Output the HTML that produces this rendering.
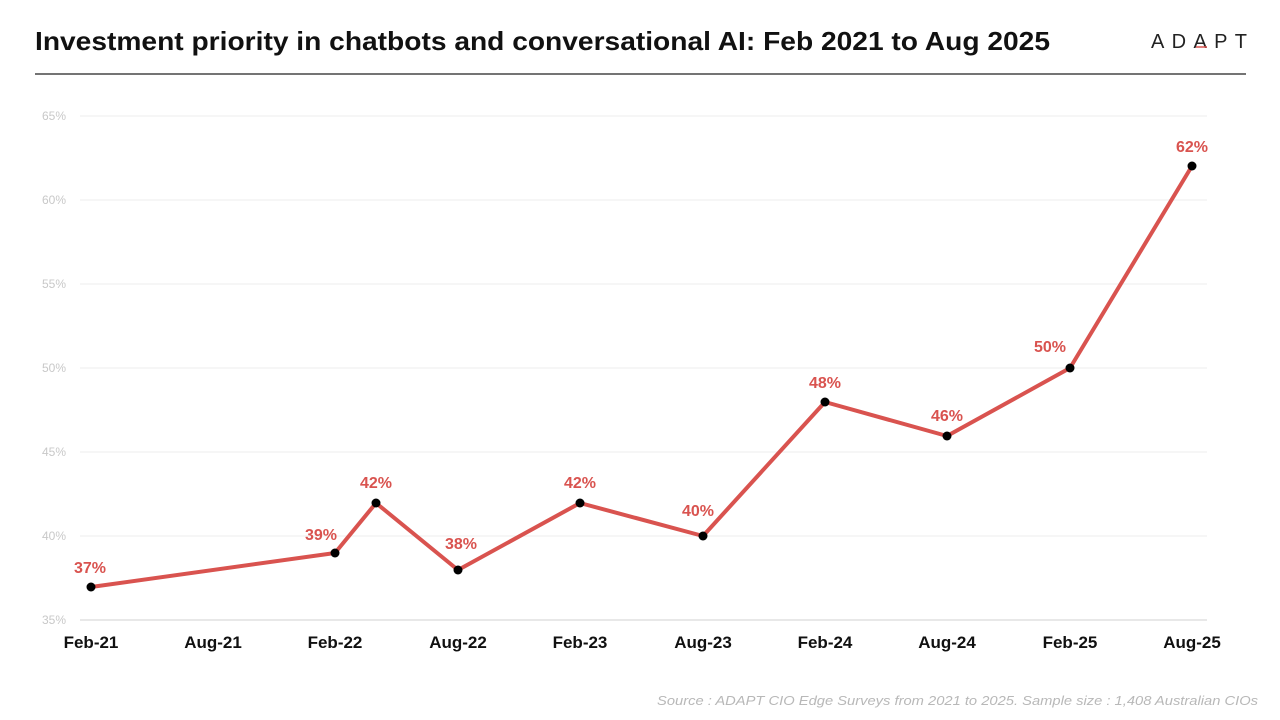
<!DOCTYPE html>
<html><head><meta charset="utf-8"><style>
body{margin:0;background:#fff;}
svg{display:block;font-family:"Liberation Sans",Arial,sans-serif;}
</style></head><body>
<svg width="1280" height="720" viewBox="0 0 1280 720">
<text x="35" y="50" font-size="26" font-weight="bold" fill="#111" textLength="1015" lengthAdjust="spacingAndGlyphs">Investment priority in chatbots and conversational AI: Feb 2021 to Aug 2025</text>
<text x="1151" y="48" font-size="20" fill="#222" textLength="96" lengthAdjust="spacing">ADAPT</text>
<line x1="1196" y1="47" x2="1207" y2="47" stroke="#d9534f" stroke-width="1.5"/>
<line x1="35" y1="74" x2="1246" y2="74" stroke="#222" stroke-width="1.2"/>
<g stroke="#eeeeee" stroke-width="1">
<line x1="80" y1="116" x2="1207" y2="116"/>
<line x1="80" y1="200" x2="1207" y2="200"/>
<line x1="80" y1="284" x2="1207" y2="284"/>
<line x1="80" y1="368" x2="1207" y2="368"/>
<line x1="80" y1="452" x2="1207" y2="452"/>
<line x1="80" y1="536" x2="1207" y2="536"/>
</g>
<line x1="80" y1="620" x2="1207" y2="620" stroke="#e0e0e0" stroke-width="1.5"/>
<g font-size="12" fill="#c8c8c8" text-anchor="end">
<text x="66" y="120">65%</text><text x="66" y="204">60%</text><text x="66" y="288">55%</text>
<text x="66" y="372">50%</text><text x="66" y="456">45%</text><text x="66" y="540">40%</text><text x="66" y="624">35%</text>
</g>
<g font-size="17" font-weight="bold" fill="#111" text-anchor="middle">
<text x="91" y="648">Feb-21</text><text x="213" y="648">Aug-21</text><text x="335" y="648">Feb-22</text>
<text x="458" y="648">Aug-22</text><text x="580" y="648">Feb-23</text><text x="703" y="648">Aug-23</text>
<text x="825" y="648">Feb-24</text><text x="947" y="648">Aug-24</text><text x="1070" y="648">Feb-25</text>
<text x="1192" y="648">Aug-25</text>
</g>
<polyline points="91,587 335,553 376,503 458,570 580,503 703,536 825,402 947,436 1070,368 1192,166" fill="none" stroke="#d9534f" stroke-width="4" stroke-linejoin="round"/>
<g fill="#000">
<circle cx="91" cy="587" r="4.5"/><circle cx="335" cy="553" r="4.5"/><circle cx="376" cy="503" r="4.5"/>
<circle cx="458" cy="570" r="4.5"/><circle cx="580" cy="503" r="4.5"/><circle cx="703" cy="536" r="4.5"/>
<circle cx="825" cy="402" r="4.5"/><circle cx="947" cy="436" r="4.5"/><circle cx="1070" cy="368" r="4.5"/>
<circle cx="1192" cy="166" r="4.5"/>
</g>
<g font-size="16" font-weight="bold" fill="#d9534f" text-anchor="middle">
<text x="90" y="573">37%</text><text x="321" y="540">39%</text><text x="376" y="488">42%</text>
<text x="461" y="549">38%</text><text x="580" y="488">42%</text><text x="698" y="516">40%</text>
<text x="825" y="388">48%</text><text x="947" y="421">46%</text><text x="1050" y="352">50%</text>
<text x="1192" y="152">62%</text>
</g>
<text x="657" y="705" font-size="13" font-style="italic" fill="#b8b8b8" textLength="601" lengthAdjust="spacingAndGlyphs">Source : ADAPT CIO Edge Surveys from 2021 to 2025. Sample size : 1,408  Australian CIOs</text>
</svg>
</body></html>
